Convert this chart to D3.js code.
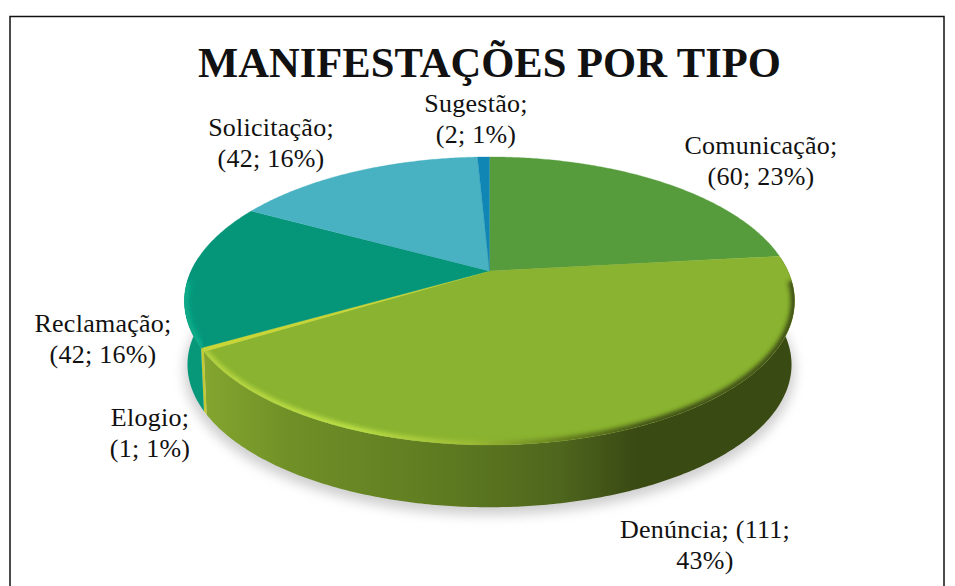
<!DOCTYPE html>
<html>
<head>
<meta charset="utf-8">
<script src="https://cdn.jsdelivr.net/npm/d3@7"></script>
<style>
  html, body { margin: 0; padding: 0; background: #fff; }
  svg { display: block; }
  text { font-family: "Liberation Serif", serif; fill: #111; }
</style>
</head>
<body>
<div id="chart"></div>
<script>
var categories = ["Comunicação", "Denúncia", "Elogio", "Reclamação", "Solicitação", "Sugestão"];
var values = [60, 111, 1, 42, 42, 2];
var percents = [23, 43, 1, 16, 16, 1];
var colors = ["#569c3c", "#89b330", "#c9d636", "#05967a", "#48b2c3", "#0f86b4"];
var wallColors = ["#3d4f14", "#7d9c2b", "#c2c931", "#07987a", "#3f9fad", "#0d789f"];
var title = "MANIFESTAÇÕES POR TIPO";

var width = 955, height = 586;

// label placement, one entry per category
var labelLayout = [
  {x: 761, y: 154, lines: d => [d.name + ";", "(" + d.value + "; " + d.pct + "%)"]},
  {x: 705, y: 538, lines: d => [d.name + "; (" + d.value + ";", d.pct + "%)"]},
  {x: 150, y: 426, lines: d => [d.name + ";", "(" + d.value + "; " + d.pct + "%)"]},
  {x: 103, y: 332, lines: d => [d.name + ";", "(" + d.value + "; " + d.pct + "%)"]},
  {x: 271, y: 136, lines: d => [d.name + ";", "(" + d.value + "; " + d.pct + "%)"]},
  {x: 476, y: 112, lines: d => [d.name + ";", "(" + d.value + "; " + d.pct + "%)"]}
];

var svg = d3.select("#chart").append("svg")
  .attr("width", width)
  .attr("height", height)
  .attr("viewBox", "0 0 955 586");

var defs = svg.append("defs");

defs.append("filter").attr("id", "soft").attr("x", "-10%").attr("y", "-10%").attr("width", "120%").attr("height", "125%")
  .append("feGaussianBlur").attr("stdDeviation", 6);
defs.append("filter").attr("id", "rimblur").attr("x", "-10%").attr("y", "-10%").attr("width", "120%").attr("height", "120%")
  .append("feGaussianBlur").attr("stdDeviation", 2.2);

// wall shading of the big slice, light on the left and dark towards the right
var wallGrad = defs.append("linearGradient").attr("id", "wallGrad")
  .attr("gradientUnits", "userSpaceOnUse")
  .attr("x1", 205).attr("x2", 795).attr("y1", 0).attr("y2", 0);
[[0, "#84a52e"], [0.15, "#6f8f27"], [0.4, "#5f7b21"], [0.6, "#4e661d"], [0.73, "#3a4a13"], [1, "#3a4a13"]]
  .forEach(s => wallGrad.append("stop").attr("offset", s[0]).attr("stop-color", s[1]));

var rimGrad = defs.append("linearGradient").attr("id", "rimGrad")
  .attr("gradientUnits", "userSpaceOnUse")
  .attr("x1", 205).attr("x2", 795).attr("y1", 0).attr("y2", 0);
[[0, "#b4d23f"], [0.25, "#bce045"], [0.45, "#9dbb35"], [0.6, "#67801f"], [0.75, "#3f5015"], [1, "#3f5015"]]
  .forEach(s => rimGrad.append("stop").attr("offset", s[0]).attr("stop-color", s[1]));

// frame
svg.append("rect")
  .attr("x", 10).attr("y", 16.5)
  .attr("width", 934).attr("height", 600)
  .attr("fill", "#fff").attr("stroke", "#111").attr("stroke-width", 1.5);

// tilted pie: unit circle seen in perspective
var cx = 489.5, cy = 271, persp = 0.208, scaleX = d3.scaleLinear().domain([-1, 1]).range([-298.4, 298.4]);
var scaleY = d3.scaleLinear().domain([-1, 1]).range([-137.8, 137.8]);

function project(angle, r, dy, shrink) {
  var u = Math.sin(angle) * r, v = -Math.cos(angle) * r;
  var w = 1 - persp * v;
  return [cx + scaleX(u) / w * shrink, cy + dy + scaleY(v) / w * shrink];
}

function arcPoints(a0, a1, dy, shrink) {
  var n = Math.max(2, Math.ceil((a1 - a0) / 0.01));
  return d3.range(n + 1).map(i => project(a0 + (a1 - a0) * i / n, 1, dy, shrink));
}

var line = d3.line();
var depth = 64, bottomShrink = 0.99;

var data = categories.map((name, i) => ({name: name, value: values[i], pct: percents[i], i: i}));
var arcs = d3.pie().sort(null).value(d => d.value)(data);

// ground shadow
svg.append("path")
  .attr("d", line(arcPoints(0, 2 * Math.PI, depth + 6, 1)) + "Z")
  .attr("fill", "#cfcfcf")
  .attr("filter", "url(#soft)");

// side walls, only the near half of the rim is visible
var nearStart = Math.PI / 2 - 0.1, nearEnd = 3 * Math.PI / 2 + 0.1;
var walls = arcs.filter(a => a.endAngle > nearStart && a.startAngle < nearEnd);

svg.append("g").selectAll("path")
  .data(walls)
  .join("path")
  .attr("d", a => {
    var a0 = Math.max(a.startAngle, nearStart), a1 = Math.min(a.endAngle, nearEnd);
    var top = arcPoints(a0, a1, 0, 1);
    var bot = arcPoints(a0, a1, depth, bottomShrink).reverse();
    return line(top.concat(bot)) + "Z";
  })
  .attr("fill", a => a.data.i === 1 ? "url(#wallGrad)" : wallColors[a.data.i]);

// top face
var face = svg.append("g");
face.selectAll("path")
  .data(arcs)
  .join("path")
  .attr("d", a => line([[cx, cy]].concat(arcPoints(a.startAngle, a.endAngle, 0, 1))) + "Z")
  .attr("fill", a => colors[a.data.i])
  .attr("stroke", a => colors[a.data.i])
  .attr("stroke-width", a => a.data.i === 2 ? 0.6 : 0.3);

// bevel along the near rim of the top face
defs.append("clipPath").attr("id", "faceClip")
  .append("path").attr("d", line(arcPoints(0, 2 * Math.PI, 0, 1)) + "Z");

var big = arcs[1];
svg.append("g").attr("clip-path", "url(#faceClip)")
  .append("path")
  .attr("d", line(arcPoints(big.startAngle + 0.18, big.endAngle, 0, 1)))
  .attr("fill", "none")
  .attr("stroke", "url(#rimGrad)")
  .attr("stroke-width", 8)
  .attr("filter", "url(#rimblur)");

var teal = arcs[3];
svg.append("g").attr("clip-path", "url(#faceClip)")
  .append("path")
  .attr("d", line(arcPoints(teal.startAngle, teal.startAngle + 0.45, 0, 1)))
  .attr("fill", "none")
  .attr("stroke", "#07ab89")
  .attr("stroke-width", 9)
  .attr("filter", "url(#rimblur)");

// title and labels
svg.append("text")
  .attr("x", 489.5).attr("y", 77)
  .attr("text-anchor", "middle")
  .attr("font-size", 42.6)
  .attr("font-weight", "bold")
  .text(title);

var label = svg.append("g").selectAll("text")
  .data(data)
  .join("text")
  .attr("text-anchor", "middle")
  .attr("font-size", 26)
  .attr("letter-spacing", 0.25)
  .attr("y", d => labelLayout[d.i].y);

label.selectAll("tspan")
  .data(d => labelLayout[d.i].lines(d).map(t => ({t: t, x: labelLayout[d.i].x})))
  .join("tspan")
  .attr("x", d => d.x)
  .attr("dy", (d, i) => i ? 31 : 0)
  .text(d => d.t);
</script>
</body>
</html>
